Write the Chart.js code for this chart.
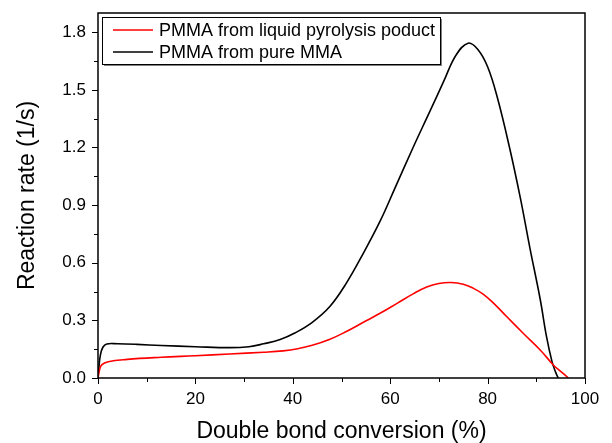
<!DOCTYPE html>
<html>
<head>
<meta charset="utf-8">
<script src="https://cdn.jsdelivr.net/npm/chart.js@4"></script>
<style>
  body { margin: 0; background: #fff; }
  #wrap { width: 612px; height: 443px; }
</style>
</head>
<body>
<div id="wrap"><canvas id="myChart" width="612" height="443"></canvas></div>
<script>
// values
let nomeLiquido = "PMMA from liquid pyrolysis poduct";
let nomePuro = "PMMA from pure MMA";

let xLiquido = [0, 0.3, 0.75, 2.1, 6, 13, 20, 27, 34, 38, 41, 44, 47.5, 51, 54.5, 58, 61.5, 64.7, 67.5, 70, 72.5, 75, 77, 79, 81, 83.9, 87.3, 90.8, 93.5, 95, 96.6];
let yLiquido = [0, 0.04, 0.068, 0.085, 0.097, 0.108, 0.116, 0.125, 0.134, 0.141, 0.152, 0.17, 0.2, 0.242, 0.29, 0.338, 0.39, 0.438, 0.474, 0.492, 0.497, 0.488, 0.468, 0.438, 0.395, 0.32, 0.233, 0.146, 0.068, 0.035, 0];

let xPuro = [0, 0.2, 0.5, 1, 1.8, 4, 8, 13, 20, 27, 31, 34, 37.4, 40.4, 44, 47.6, 51, 54.5, 58, 61, 64.7, 68, 71, 73.5, 76, 78, 80, 82, 84.5, 86.7, 88.7, 90.8, 92.1, 93.2, 94, 94.5];
let yPuro = [0, 0.06, 0.12, 0.16, 0.177, 0.178, 0.175, 0.169, 0.163, 0.158, 0.163, 0.178, 0.2, 0.234, 0.29, 0.372, 0.494, 0.65, 0.82, 0.99, 1.2, 1.38, 1.545, 1.68, 1.743, 1.71, 1.62, 1.46, 1.2, 0.94, 0.675, 0.41, 0.215, 0.088, 0.028, 0];

let xTicks = [0, 20, 40, 60, 80, 100];
let xMinor = [10, 30, 50, 70, 90];
let yTicks = [0, 0.3, 0.6, 0.9, 1.2, 1.5, 1.8];
let yMinor = [0.15, 0.45, 0.75, 1.05, 1.35, 1.65];

const fonte = '"Liberation Sans", Arial, sans-serif';

function juntaPontos(xs, ys) {
  let pontos = [];
  for (let i = 0; i < xs.length; i++) {
    pontos.push({ x: xs[i], y: ys[i] });
  }
  return pontos;
}

// frame, x tick labels, outward tick marks and the boxed legend
const molduraPlugin = {
  id: 'moldura',
  afterDraw(chart) {
    const ctx = chart.ctx;
    const area = chart.chartArea;
    const sx = chart.scales.x;
    const sy = chart.scales.y;
    ctx.save();
    ctx.strokeStyle = '#000';
    ctx.lineWidth = 1.5;
    ctx.strokeRect(area.left, area.top, area.right - area.left, area.bottom - area.top);

    ctx.fillStyle = '#000';
    ctx.font = '17px ' + fonte;
    ctx.textAlign = 'center';
    ctx.textBaseline = 'middle';
    for (let v of xTicks) {
      ctx.fillText(String(v), sx.getPixelForValue(v), area.bottom + 21);
    }
    ctx.restore();

    ctx.save();
    ctx.strokeStyle = '#000';
    ctx.lineWidth = 1;
    for (let v of xTicks) {
      let px = Math.round(sx.getPixelForValue(v)) + 0.5;
      ctx.beginPath();
      ctx.moveTo(px, area.bottom); ctx.lineTo(px, area.bottom + 6);
      ctx.stroke();
    }
    for (let v of xMinor) {
      let px = Math.round(sx.getPixelForValue(v)) + 0.5;
      ctx.beginPath();
      ctx.moveTo(px, area.bottom); ctx.lineTo(px, area.bottom + 4);
      ctx.stroke();
    }
    for (let v of yTicks) {
      let py = Math.round(sy.getPixelForValue(v)) + 0.5;
      ctx.beginPath();
      ctx.moveTo(area.left, py); ctx.lineTo(area.left - 6, py);
      ctx.stroke();
    }
    for (let v of yMinor) {
      let py = Math.round(sy.getPixelForValue(v)) + 0.5;
      ctx.beginPath();
      ctx.moveTo(area.left, py); ctx.lineTo(area.left - 4, py);
      ctx.stroke();
    }

    // legend box
    let bx = area.left + 4, by = area.top + 4, bw = 338, bh = 47;
    ctx.fillStyle = '#808080';
    ctx.fillRect(bx + 2, by + bh, bw, 2);
    ctx.fillRect(bx + bw, by + 2, 2, bh);
    ctx.fillStyle = '#fff';
    ctx.fillRect(bx, by, bw, bh);
    ctx.strokeStyle = '#000';
    ctx.lineWidth = 1;
    ctx.strokeRect(bx + 0.5, by + 0.5, bw, bh);

    ctx.font = '18px ' + fonte;
    ctx.textBaseline = 'middle';
    ctx.textAlign = 'left';
    chart.data.datasets.forEach(function (ds, i) {
      let ly = by + 13 + i * 22;
      ctx.strokeStyle = ds.borderColor;
      ctx.lineWidth = 1.5;
      ctx.beginPath();
      ctx.moveTo(bx + 11, ly); ctx.lineTo(bx + 51, ly);
      ctx.stroke();
      ctx.fillStyle = '#000';
      ctx.fillText(ds.label, bx + 57, ly + 1);
    });
    ctx.restore();
  }
};

function geraGrafico() {
  const data = {
    datasets: [{
      label: nomeLiquido,
      borderColor: 'rgb(255, 0, 0)',
      backgroundColor: 'rgb(255, 0, 0)',
      borderWidth: 1.6,
      data: juntaPontos(xLiquido, yLiquido),
    }, {
      label: nomePuro,
      borderColor: 'rgb(0, 0, 0)',
      backgroundColor: 'rgb(0, 0, 0)',
      borderWidth: 1.6,
      data: juntaPontos(xPuro, yPuro),
    }]
  };

  const fonteTick = { family: fonte, size: 17 };
  const fonteTitulo = { family: fonte, size: 23, lineHeight: 1 };

  const config = {
    type: 'line',
    data: data,
    plugins: [molduraPlugin],
    options: {
      responsive: false,
      animation: false,
      tension: 0.4,
      pointRadius: 0,
      layout: { padding: { left: 0, right: 27, top: 13, bottom: 0 } },
      plugins: {
        legend: { display: false },
        tooltip: { enabled: false }
      },
      scales: {
        x: {
          type: 'linear',
          min: 0,
          max: 100,
          grid: { display: false, drawTicks: false },
          border: { display: false },
          ticks: { display: false },
          afterBuildTicks: function (scale) {
            scale.ticks = xTicks.map(function (v) { return { value: v }; });
          },
          afterFit: function (scale) { scale.height = 65; },
          title: {
            display: true,
            text: 'Double bond conversion (%)',
            color: '#000',
            font: fonteTitulo,
            padding: { top: 0, bottom: 0 }
          }
        },
        y: {
          type: 'linear',
          min: 0,
          max: 1.9,
          grid: { display: false, drawTicks: false },
          border: { display: false },
          ticks: {
            color: '#000',
            font: fonteTick,
            padding: 12,
            autoSkip: false,
            callback: function (v) { return v.toFixed(1); }
          },
          afterBuildTicks: function (scale) {
            scale.ticks = yTicks.map(function (v) { return { value: v }; });
          },
          afterFit: function (scale) {
            scale.width = 98;
            scale.paddingTop = 0;
            scale.paddingBottom = 0;
          },
          title: {
            display: true,
            text: 'Reaction rate (1/s)',
            color: '#000',
            font: fonteTitulo,
            padding: { top: 16, bottom: 0 }
          }
        }
      }
    }
  };

  const myChart = new Chart(document.getElementById('myChart'), config);
}

geraGrafico();
</script>
</body>
</html>
